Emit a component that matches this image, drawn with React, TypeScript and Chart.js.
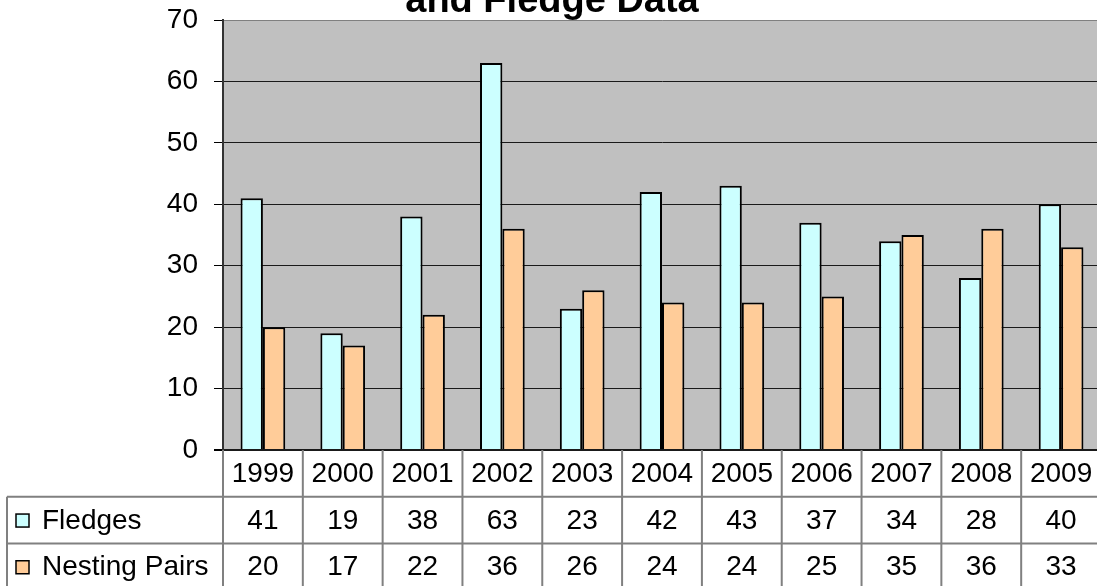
import React, { useEffect, useRef } from "react";
import { Chart, registerables } from "chart.js";

Chart.register(...registerables);

const categories = ["1999", "2000", "2001", "2002", "2003", "2004", "2005", "2006", "2007", "2008", "2009"];
const fledges = [41, 19, 38, 63, 23, 42, 43, 37, 34, 28, 40];
const nestingPairs = [20, 17, 22, 36, 26, 24, 24, 25, 35, 36, 33];
const seriesNames = ["Fledges", "Nesting Pairs"];
const seriesColors = ["#CCFFFF", "#FFCC99"];
const titleText = "and Fledge Data";
const yMin = 0;
const yMax = 70;
const yStep = 10;

const FONT = "'Liberation Sans', Arial, sans-serif";

const tablePlugin = {
  id: "dataTable",
  afterDraw(chart: any) {
    const ctx = chart.ctx as CanvasRenderingContext2D;
    const area = chart.chartArea;
    const n = categories.length;
    const cw = (area.right - area.left) / n;
    const rowH = 46.7;
    const top = area.bottom;
    const rows = [top, top + rowH, top + 2 * rowH, top + 3 * rowH];
    const tableLeft = 7;

    ctx.save();
    ctx.strokeStyle = "#808080";
    ctx.lineWidth = 2;
    ctx.beginPath();
    ctx.moveTo(tableLeft, rows[1]);
    ctx.lineTo(area.right, rows[1]);
    ctx.moveTo(tableLeft, rows[2]);
    ctx.lineTo(area.right, rows[2]);
    ctx.moveTo(tableLeft, rows[3]);
    ctx.lineTo(area.right, rows[3]);
    ctx.moveTo(tableLeft, rows[1]);
    ctx.lineTo(tableLeft, rows[3]);
    for (let i = 0; i <= n; i++) {
      const x = area.left + i * cw;
      ctx.moveTo(x, top);
      ctx.lineTo(x, rows[3]);
    }
    ctx.stroke();

    ctx.fillStyle = "#000";
    ctx.font = `28px ${FONT}`;
    ctx.textAlign = "center";
    ctx.textBaseline = "middle";
    const xs = chart.scales.x;
    const seriesData = [fledges, nestingPairs];
    for (let i = 0; i < n; i++) {
      const cx = xs.getPixelForValue(i);
      ctx.fillText(categories[i], cx, (rows[0] + rows[1]) / 2 + 1);
      for (let s = 0; s < 2; s++) {
        ctx.fillText(String(seriesData[s][i]), cx, (rows[s + 1] + rows[s + 2]) / 2 + 1);
      }
    }
    ctx.textAlign = "left";
    for (let s = 0; s < 2; s++) {
      const cy = (rows[s + 1] + rows[s + 2]) / 2;
      ctx.fillStyle = seriesColors[s];
      ctx.fillRect(16, cy - 6, 13, 13);
      ctx.strokeStyle = "#000";
      ctx.lineWidth = 1.5;
      ctx.strokeRect(16, cy - 6, 13, 13);
      ctx.fillStyle = "#000";
      ctx.fillText(seriesNames[s], 42, cy + 1);
    }

    ctx.font = `bold 38px ${FONT}`;
    ctx.textAlign = "center";
    ctx.textBaseline = "alphabetic";
    ctx.fillText(titleText, 552, 12);
    ctx.restore();
  },
};

const bgPlugin = {
  id: "plotBg",
  beforeDraw(chart: any) {
    const ctx = chart.ctx as CanvasRenderingContext2D;
    const a = chart.chartArea;
    ctx.save();
    ctx.fillStyle = "#FFFFFF";
    ctx.fillRect(0, 0, chart.width, chart.height);
    ctx.fillStyle = "#C0C0C0";
    ctx.fillRect(a.left, a.top, a.right - a.left, a.bottom - a.top);
    ctx.restore();
  },
};

export default function App() {
  const ref = useRef<HTMLCanvasElement | null>(null);

  useEffect(() => {
    document.body.style.overflow = "hidden";
    document.documentElement.style.overflow = "hidden";
    const canvas = ref.current;
    if (!canvas) return;
    const chart = new Chart(canvas, {
      type: "bar",
      data: {
        labels: categories,
        datasets: [
          {
            label: seriesNames[0],
            data: fledges,
            backgroundColor: seriesColors[0],
            borderColor: "#000",
            borderWidth: 2,
          },
          {
            label: seriesNames[1],
            data: nestingPairs,
            backgroundColor: seriesColors[1],
            borderColor: "#000",
            borderWidth: 2,
          },
        ],
      },
      options: {
        responsive: false,
        animation: false,
        devicePixelRatio: 1,
        layout: { padding: { top: 20, bottom: 136, left: 0, right: 9 } },
        datasets: {
          bar: { categoryPercentage: 0.56, barPercentage: 1 },
        },
        plugins: {
          legend: { display: false },
          title: { display: false },
          tooltip: { enabled: false },
        },
        scales: {
          x: {
            display: false,
          },
          y: {
            min: yMin,
            max: yMax,
            afterFit(scale: any) {
              scale.width = 223;
              scale.paddingTop = 0;
              scale.paddingBottom = 0;
            },
            ticks: {
              stepSize: yStep,
              color: "#000",
              padding: 16,
              font: { family: FONT, size: 28 },
            },
            grid: {
              color: (c: any) => (c.tick && c.tick.value === yMax ? "#808080" : "#1a1a1a"),
              lineWidth: (c: any) => (c.tick && c.tick.value === yMin ? 2 : 1),
              tickLength: 9,
              tickColor: "#000",
            },
            border: { display: true, color: "#333", width: 2 },
          },
        },
      },
      plugins: [bgPlugin, tablePlugin],
    });
    return () => chart.destroy();
  }, []);

  return (
    <div style={{ position: "fixed", left: 0, top: 0, width: 1110, height: 586, background: "#fff" }}>
      <canvas ref={ref} width={1110} height={586} style={{ width: 1110, height: 586, display: "block" }} />
    </div>
  );
}
